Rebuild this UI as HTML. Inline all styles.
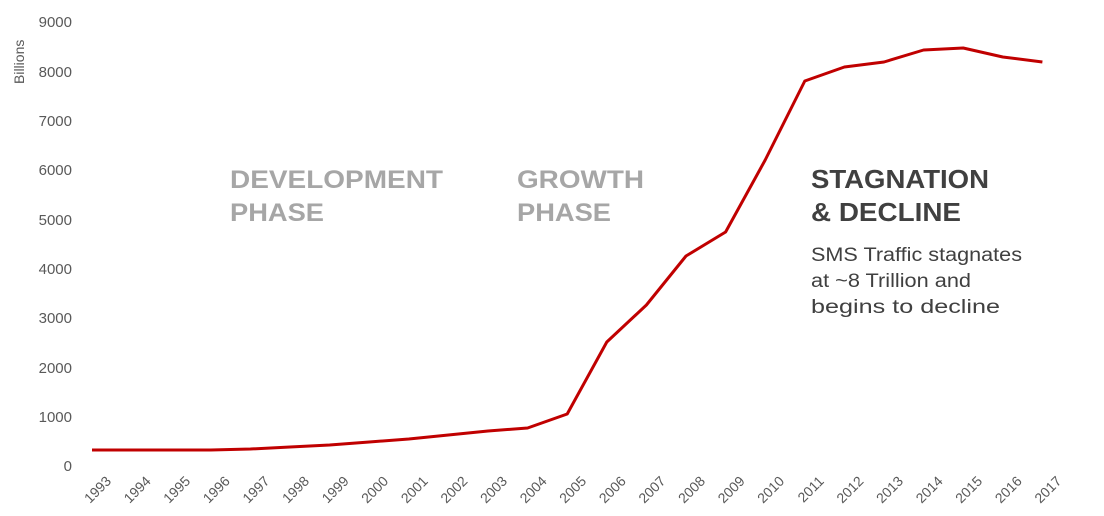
<!DOCTYPE html>
<html><head><meta charset="utf-8"><style>
html,body{margin:0;padding:0;background:#fff;}
svg{display:block;font-family:"Liberation Sans",Arial,sans-serif;}
</style></head><body>
<svg width="1104" height="516" viewBox="0 0 1104 516">
<g font-size="15" fill="#595959" text-anchor="end">
<text x="72" y="471">0</text>
<text x="72" y="422">1000</text>
<text x="72" y="373">2000</text>
<text x="72" y="323">3000</text>
<text x="72" y="274">4000</text>
<text x="72" y="225">5000</text>
<text x="72" y="175">6000</text>
<text x="72" y="126">7000</text>
<text x="72" y="77">8000</text>
<text x="72" y="27">9000</text>
</g>
<text transform="translate(24,84) rotate(-90)" font-size="14" fill="#595959">Billions</text>
<polyline fill="none" stroke="#c00000" stroke-width="3" stroke-linejoin="round" points="92,450 131.6,450 171.2,450 210.8,450 250.4,449 290,447 329.6,445 369.2,442 408.8,439 448.4,435 488,431 527.6,428 567.2,414 606.8,342 646.4,305 686,256 725.6,232 765.2,160 804.8,81 844.4,67 884,62 923.6,50 963.2,48 1002.8,57 1042.4,62"/>
<g font-size="25" font-weight="bold" fill="#a6a6a6">
<text x="230" y="188" textLength="213" lengthAdjust="spacingAndGlyphs">DEVELOPMENT</text><text x="230" y="221" textLength="94" lengthAdjust="spacingAndGlyphs">PHASE</text>
<text x="517" y="188" textLength="127" lengthAdjust="spacingAndGlyphs">GROWTH</text><text x="517" y="221" textLength="94" lengthAdjust="spacingAndGlyphs">PHASE</text>
</g>
<g font-size="26" font-weight="bold" fill="#404040">
<text x="811" y="188" textLength="178" lengthAdjust="spacingAndGlyphs">STAGNATION</text><text x="811" y="221" textLength="150" lengthAdjust="spacingAndGlyphs">&amp; DECLINE</text>
</g>
<g font-size="19" fill="#404040">
<text x="811" y="261" textLength="211" lengthAdjust="spacingAndGlyphs">SMS Traffic stagnates</text>
<text x="811" y="287" textLength="160" lengthAdjust="spacingAndGlyphs">at ~8 Trillion and</text>
<text x="811" y="313" textLength="189" lengthAdjust="spacingAndGlyphs">begins to decline</text>
</g>
<g font-size="14" fill="#595959" text-anchor="end">
<text transform="translate(112,482) rotate(-45)">1993</text>
<text transform="translate(151.6,482) rotate(-45)">1994</text>
<text transform="translate(191.2,482) rotate(-45)">1995</text>
<text transform="translate(230.8,482) rotate(-45)">1996</text>
<text transform="translate(270.4,482) rotate(-45)">1997</text>
<text transform="translate(310,482) rotate(-45)">1998</text>
<text transform="translate(349.6,482) rotate(-45)">1999</text>
<text transform="translate(389.2,482) rotate(-45)">2000</text>
<text transform="translate(428.8,482) rotate(-45)">2001</text>
<text transform="translate(468.4,482) rotate(-45)">2002</text>
<text transform="translate(508,482) rotate(-45)">2003</text>
<text transform="translate(547.6,482) rotate(-45)">2004</text>
<text transform="translate(587.2,482) rotate(-45)">2005</text>
<text transform="translate(626.8,482) rotate(-45)">2006</text>
<text transform="translate(666.4,482) rotate(-45)">2007</text>
<text transform="translate(706,482) rotate(-45)">2008</text>
<text transform="translate(745.6,482) rotate(-45)">2009</text>
<text transform="translate(785.2,482) rotate(-45)">2010</text>
<text transform="translate(824.8,482) rotate(-45)">2011</text>
<text transform="translate(864.4,482) rotate(-45)">2012</text>
<text transform="translate(904,482) rotate(-45)">2013</text>
<text transform="translate(943.6,482) rotate(-45)">2014</text>
<text transform="translate(983.2,482) rotate(-45)">2015</text>
<text transform="translate(1022.8,482) rotate(-45)">2016</text>
<text transform="translate(1062.4,482) rotate(-45)">2017</text>
</g>
</svg>
</body></html>
